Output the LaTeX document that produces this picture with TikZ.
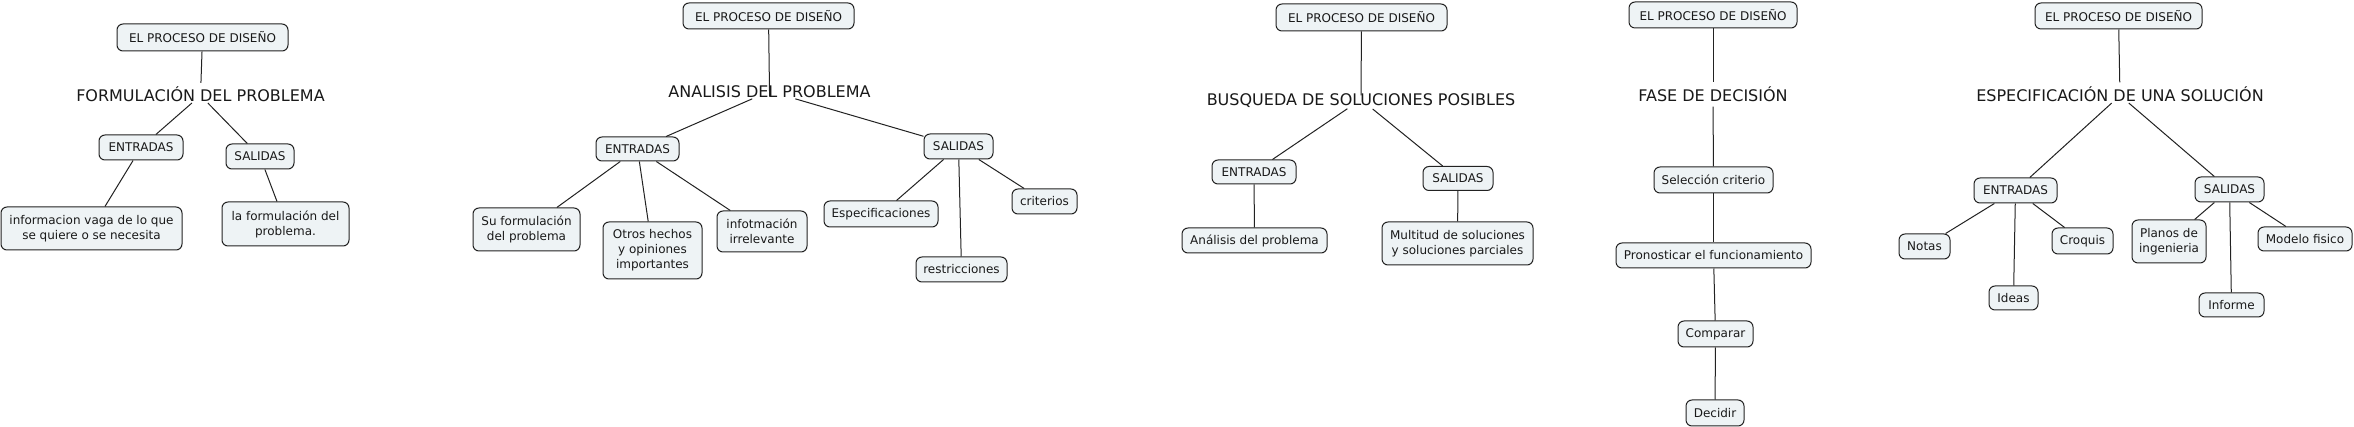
\documentclass[tikz,border=0pt]{standalone}
\usepackage{fontspec}
\setmainfont{DejaVu Sans}
\definecolor{boxfill}{HTML}{EEF3F5}
\definecolor{edge}{HTML}{222222}
\begin{document}
\begin{tikzpicture}[x=1pt,y=-1pt,
  cbox/.style={draw=edge, line width=1pt, fill=boxfill, rounded corners=6pt,
    inner sep=0pt, align=center, text=black!90, font=\fontsize{12}{15}\selectfont},
  ttl/.style={inner xsep=2pt, inner ysep=1.5pt, text height=11.7pt, text depth=0pt,
    text=black!90, font=\fontsize{16}{19}\selectfont},
  conn/.style={line width=1pt, draw=edge}]
\useasboundingbox[fill=white] (0,0) rectangle (2354,427);

% ---------- Section 1 ----------
\node[cbox, minimum width=171pt, minimum height=27pt] (p1) at (202.5,37.5) {EL PROCESO DE DISEÑO};
\node[ttl] (t1) at (200.5,95.5) {FORMULACIÓN DEL PROBLEMA};
\node[cbox, minimum width=84pt, minimum height=25pt] (e1) at (141,147.5) {ENTRADAS};
\node[cbox, minimum width=68pt, minimum height=25pt] (s1) at (260,156.5) {SALIDAS};
\node[cbox, minimum width=181pt, minimum height=43pt] (e1a) at (91.5,228.5) {informacion vaga de lo que\\se quiere o se necesita};
\node[cbox, minimum width=127pt, minimum height=44pt] (s1a) at (285.5,224) {la formulación del\\problema.};
\draw[conn, shorten >=5pt] (p1) -- (t1);
\draw[conn] (t1) -- (e1);
\draw[conn] (t1) -- (s1);
\draw[conn] (e1) -- (e1a);
\draw[conn] (s1) -- (s1a);

% ---------- Section 2 ----------
\node[cbox, minimum width=171pt, minimum height=26pt] (p2) at (768.5,16) {EL PROCESO DE DISEÑO};
\node[ttl] (t2) at (769.5,91.3) {ANALISIS DEL PROBLEMA};
\node[cbox, minimum width=83pt, minimum height=24pt] (e2) at (637.5,149) {ENTRADAS};
\node[cbox, minimum width=69pt, minimum height=25pt] (s2) at (958.5,146.5) {SALIDAS};
\node[cbox, minimum width=107pt, minimum height=43pt] (e2a) at (526.5,229.5) {Su formulación\\del problema};
\node[cbox, minimum width=99pt, minimum height=57pt] (e2b) at (652.5,250.5) {Otros hechos\\y opiniones\\importantes};
\node[cbox, minimum width=90pt, minimum height=41pt] (e2c) at (762,231.5) {infotmación\\irrelevante};
\node[cbox, minimum width=114pt, minimum height=26pt] (s2a) at (881,214) {Especificaciones};
\node[cbox, minimum width=91pt, minimum height=25pt] (s2b) at (961.5,269.5) {restricciones};
\node[cbox, minimum width=65pt, minimum height=25pt] (s2c) at (1044.5,201.5) {criterios};
\draw[conn, shorten >=-13pt] (p2) -- (t2);
\draw[conn] (t2) -- (e2);
\draw[conn] (t2) -- (s2);
\draw[conn] (e2) -- (e2a);
\draw[conn] (e2) -- (e2b);
\draw[conn] (e2) -- (e2c);
\draw[conn] (s2) -- (s2a);
\draw[conn] (s2) -- (s2b);
\draw[conn] (s2) -- (s2c);

% ---------- Section 3 ----------
\node[cbox, minimum width=171pt, minimum height=27pt] (p3) at (1361.5,17.5) {EL PROCESO DE DISEÑO};
\node[ttl] (t3) at (1361,99.5) {BUSQUEDA DE SOLUCIONES POSIBLES};
\node[cbox, minimum width=84pt, minimum height=24pt] (e3) at (1254,172) {ENTRADAS};
\node[cbox, minimum width=70pt, minimum height=24pt] (s3) at (1458,178.5) {SALIDAS};
\node[cbox, minimum width=145pt, minimum height=25pt] (e3a) at (1254.5,240.5) {Análisis del problema};
\node[cbox, minimum width=151pt, minimum height=43pt] (s3a) at (1457.5,243.5) {Multitud de soluciones\\y soluciones parciales};
\draw[conn, shorten >=-3.5pt] (p3) -- (t3);
\draw[conn, shorten <=3pt] (t3) -- (e3);
\draw[conn, shorten <=3pt] (t3) -- (s3);
\draw[conn] (e3) -- (e3a);
\draw[conn] (s3) -- (s3a);

% ---------- Section 4 ----------
\node[cbox, minimum width=168pt, minimum height=26pt] (p4) at (1713,15) {EL PROCESO DE DISEÑO};
\node[ttl] (t4) at (1713,96) {FASE DE DECISIÓN};
\node[cbox, minimum width=119pt, minimum height=26pt] (a4) at (1713.5,180) {Selección criterio};
\node[cbox, minimum width=195pt, minimum height=25pt] (b4) at (1713.5,255.5) {Pronosticar el funcionamiento};
\node[cbox, minimum width=75pt, minimum height=26pt] (c4) at (1715.5,334) {Comparar};
\node[cbox, minimum width=58pt, minimum height=26pt] (d4) at (1715,413) {Decidir};
\draw[conn, shorten >=6pt] (p4) -- (t4);
\draw[conn, shorten <=3pt] (t4) -- (a4);
\draw[conn] (a4) -- (b4);
\draw[conn] (b4) -- (c4);
\draw[conn] (c4) -- (d4);

% ---------- Section 5 ----------
\node[cbox, minimum width=167pt, minimum height=26pt] (p5) at (2118.5,16) {EL PROCESO DE DISEÑO};
\node[ttl] (t5) at (2120,95.5) {ESPECIFICACIÓN DE UNA SOLUCIÓN};
\node[cbox, minimum width=83pt, minimum height=25pt] (e5) at (2015.5,190.5) {ENTRADAS};
\node[cbox, minimum width=69pt, minimum height=25pt] (s5) at (2229.5,189.5) {SALIDAS};
\node[cbox, minimum width=51pt, minimum height=25pt] (n5) at (1924.5,246.5) {Notas};
\node[cbox, minimum width=49pt, minimum height=24pt] (i5) at (2013.5,298) {Ideas};
\node[cbox, minimum width=61pt, minimum height=26pt] (c5) at (2082.5,241) {Croquis};
\node[cbox, minimum width=74pt, minimum height=43pt] (pl5) at (2169,241.5) {Planos de\\ingenieria};
\node[cbox, minimum width=65pt, minimum height=24pt] (in5) at (2231.5,305) {Informe};
\node[cbox, minimum width=94pt, minimum height=24pt] (m5) at (2305,239) {Modelo fisico};
\draw[conn, shorten >=5.5pt] (p5) -- (t5);
\draw[conn] (t5) -- (e5);
\draw[conn] (t5) -- (s5);
\draw[conn] (e5) -- (n5);
\draw[conn] (e5) -- (i5);
\draw[conn] (e5) -- (c5);
\draw[conn] (s5) -- (pl5);
\draw[conn] (s5) -- (in5);
\draw[conn] (s5) -- (m5);
\end{tikzpicture}
\end{document}
